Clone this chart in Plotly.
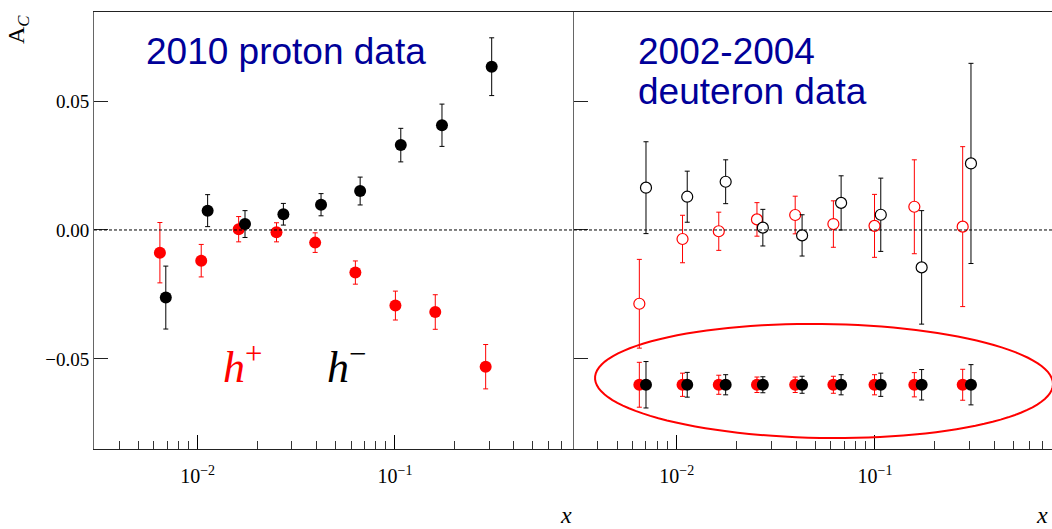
import numpy as np
import plotly.graph_objects as go

# --- 2010 proton data (left panel) ---
x_p_pos = [0.00644, 0.01043, 0.01614, 0.0251, 0.0394, 0.0630, 0.1005, 0.160, 0.288]
a_p_pos = [-0.0088, -0.0119, 0.0003, -0.0009, -0.0049, -0.0165, -0.0293, -0.0318, -0.0530]
e_p_pos = [0.0117, 0.0063, 0.0049, 0.0037, 0.0038, 0.0045, 0.0056, 0.0067, 0.0086]

x_p_neg = [0.0069, 0.01124, 0.01738, 0.0272, 0.0422, 0.0666, 0.107, 0.173, 0.309]
a_p_neg = [-0.0262, 0.0075, 0.0023, 0.0061, 0.0098, 0.0151, 0.0329, 0.0406, 0.0633]
e_p_neg = [0.0122, 0.0062, 0.0052, 0.0042, 0.0043, 0.0054, 0.0065, 0.0082, 0.0112]

# --- 2002-2004 deuteron data (right panel) ---
x_d_pos = [0.00648, 0.0107, 0.0163, 0.0254, 0.0396, 0.0617, 0.0995, 0.158, 0.277]
a_d_pos = [-0.0286, -0.0035, -0.0005, 0.0041, 0.0058, 0.0023, 0.0016, 0.0090, 0.0013]
e_d_pos = [0.0172, 0.0092, 0.0074, 0.0065, 0.0073, 0.0090, 0.0122, 0.0182, 0.0310]

x_d_neg = [0.0070, 0.0113, 0.01766, 0.0272, 0.0429, 0.0675, 0.107, 0.172, 0.305]
a_d_neg = [0.0164, 0.0129, 0.0187, 0.0009, -0.0021, 0.0105, 0.0059, -0.0145, 0.0258]
e_d_neg = [0.0178, 0.0099, 0.0085, 0.0071, 0.0080, 0.0105, 0.0142, 0.0220, 0.0388]

# projected (expected) errors, drawn at a common level
a_proj = [-0.06] * 9
e_proj_pos = [0.0087, 0.0045, 0.0037, 0.0030, 0.0030, 0.0033, 0.0039, 0.0047, 0.0060]
e_proj_neg = [0.0090, 0.0048, 0.0039, 0.0031, 0.0033, 0.0039, 0.0045, 0.0059, 0.0078]

y_ticks = [-0.05, 0.0, 0.05]
y_labels = ["\u22120.05", "0.00", "0.05"]
x_ticks = [0.01, 0.1]
x_labels = ["10<sup>\u22122</sup>", "10<sup>\u22121</sup>"]
x_minor = [m * 10.0 ** d for d in (-3, -2, -1) for m in range(2, 10)]

RED = "#ff0000"
BLUE = "#000099"
SERIF = "Liberation Serif"
SANS = "Liberation Sans"


def pts(x, y, e, col, ax, open_=False):
    return go.Scatter(
        x=x, y=y, mode="markers", xaxis=ax[0], yaxis=ax[1], showlegend=False,
        marker=dict(symbol="circle", size=11 if open_ else 12,
                    color="white" if open_ else col,
                    line=dict(color=col, width=1.2 if open_ else 0)),
        error_y=dict(type="data", array=e, color=col, thickness=1, width=2.5),
    )


fig = go.Figure()
fig.add_trace(pts(x_p_pos, a_p_pos, e_p_pos, RED, ("x", "y")))
fig.add_trace(pts(x_p_neg, a_p_neg, e_p_neg, "black", ("x", "y")))
fig.add_trace(pts(x_d_pos, a_d_pos, e_d_pos, RED, ("x2", "y2"), open_=True))
fig.add_trace(pts(x_d_neg, a_d_neg, e_d_neg, "black", ("x2", "y2"), open_=True))
fig.add_trace(pts(x_d_pos, a_proj, e_proj_pos, RED, ("x2", "y2")))
fig.add_trace(pts(x_d_neg, a_proj, e_proj_neg, "black", ("x2", "y2")))

W, H = 1052, 529
L, T, B = 94, 12, 80
split = (574 - L) / (W - L)

xcommon = dict(
    type="log", tickmode="array", tickvals=x_ticks, ticktext=x_labels,
    ticks="inside", ticklen=14, tickwidth=1, tickcolor="black",
    minor=dict(tickmode="array", tickvals=x_minor, ticks="inside", ticklen=8,
               tickcolor="#333", tickwidth=1),
    showgrid=False, zeroline=False, showline=True, linecolor="#222", linewidth=1,
    mirror=True, tickfont=dict(family=SERIF, size=20, color="black"),
    ticklabelstandoff=9, automargin=False,
)
ycommon = dict(
    range=[-0.0849, 0.0845], tickmode="array", tickvals=y_ticks,
    ticks="inside", ticklen=14, tickwidth=1, tickcolor="#222",
    showgrid=False, zeroline=False, showline=True, linecolor="#666", linewidth=1,
    tickfont=dict(family=SERIF, size=19, color="black"), automargin=False,
)

fig.update_layout(
    width=W, height=H, margin=dict(l=L, r=0, t=T, b=B),
    paper_bgcolor="white", plot_bgcolor="white",
    xaxis=dict(xcommon, domain=[0, split], range=[-2.525, -0.093], anchor="y"),
    xaxis2=dict(xcommon, domain=[split, 1], range=[-2.518, -0.107], anchor="y2"),
    yaxis=dict(ycommon, ticktext=y_labels, anchor="x", domain=[0, 1]),
    yaxis2=dict(ycommon, showticklabels=False, anchor="x2", domain=[0, 1]),
)


def px2paper(px, py):
    return (px - L) / (W - L), (H - B - py) / (H - T - B)


# dashed zero line across both panels
fig.add_shape(type="line", xref="paper", yref="y", x0=0, x1=1, y0=0, y1=0,
              line=dict(color="black", width=1, dash="3px,2px"))

# red ellipse around the projected errors
t = np.linspace(0, 2 * np.pi, 120)
cx, cy, ra, rb, ang = 824, 381, 229, 57, np.deg2rad(0.8)
ex = cx + ra * np.cos(t) * np.cos(ang) - rb * np.sin(t) * np.sin(ang)
ey = cy + ra * np.cos(t) * np.sin(ang) + rb * np.sin(t) * np.cos(ang)
path = ""
for i, (a, b) in enumerate(zip(ex, ey)):
    u, v = px2paper(a, b)
    path += ("M" if i == 0 else "L") + f"{u:.5f},{v:.5f} "
fig.add_shape(type="path", xref="paper", yref="paper", path=path + "Z",
              line=dict(color=RED, width=2))


def label(px, py, text, size, color, family, xanchor="left", angle=0):
    u, v = px2paper(px, py)
    fig.add_annotation(x=u, y=v, xref="paper", yref="paper", text=text,
                       showarrow=False, xanchor=xanchor, yanchor="middle",
                       textangle=angle, font=dict(family=family, size=size, color=color))


label(144, 51, "2010 proton data", 37, BLUE, SANS)
label(636, 51, "2002-2004", 37, BLUE, SANS)
label(636, 92, "deuteron data", 37, BLUE, SANS)
label(221, 364, "<i>h</i><sup>+</sup>", 44, RED, SERIF)
label(325, 364, "<i>h</i><sup>\u2212</sup>", 44, "black", SERIF)
label(18, 30, "A<sub><i>C</i></sub>", 24, "black", SERIF, xanchor="center", angle=-90)
label(566, 515, "<i>x</i>", 24, "black", SERIF, xanchor="center")
label(1042, 515, "<i>x</i>", 24, "black", SERIF, xanchor="center")

# page body has a default 8px margin; drop it so the figure sits at the corner
fig.write_html("out.html", config={"displayModeBar": False},
               post_script="document.body.style.margin='0';")
